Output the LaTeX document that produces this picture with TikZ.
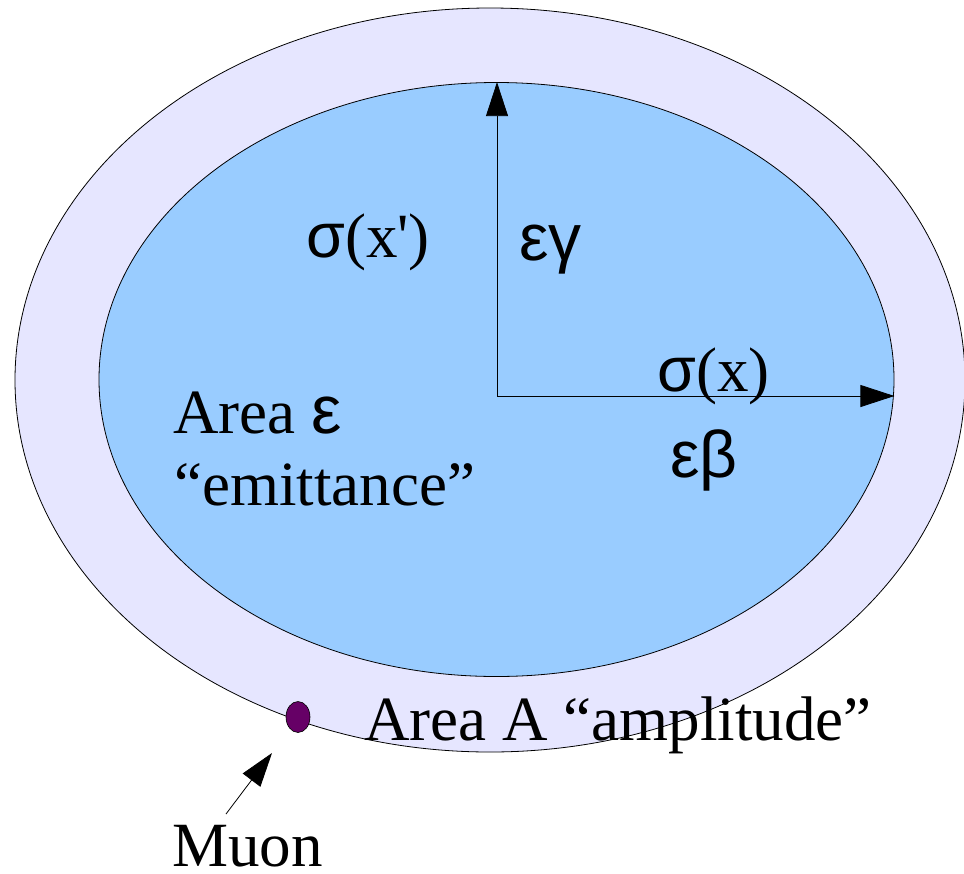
\documentclass[tikz,border=0pt]{standalone}
\usepackage{fontspec}
\setmainfont{Liberation Serif}
\newfontfamily\gs{Liberation Sans}
\usetikzlibrary{shapes.geometric,arrows.meta}
\definecolor{outerfill}{HTML}{E6E6FF}
\definecolor{innerfill}{HTML}{99CCFF}
\definecolor{muonfill}{HTML}{660066}
\begin{document}
\begin{tikzpicture}[x=1pt,y=-1pt,
  ring/.style={ellipse, draw=black, line width=0.8pt, inner sep=0pt},
  arr/.style={line width=0.8pt, -{Triangle[length=34pt,width=22pt]}},
  lbl/.style={anchor=base west, inner sep=0pt, font=\fontsize{63}{70}\selectfont}]
\useasboundingbox (0,0) rectangle (964,873);
\node[ring, fill=outerfill, minimum width=950pt, minimum height=744pt] (outer) at (490,380) {};
\node[ring, fill=innerfill, minimum width=795pt, minimum height=594pt] (inner) at (496.5,379.5) {};
\coordinate (o) at (497,396);
\draw[arr] (o) -- (o |- inner.north);
\draw[arr] (o) -- (o -| inner.east);
\node[lbl] (sxp) at (306,257) {{\gs σ}(x\textquotesingle)};
\node[lbl] (eg) at (519,260) {{\gs\fontsize{66}{70}\selectfont εγ}};
\node[lbl] (sx) at (657,391) {{\gs σ}(x)};
\node[lbl] (eb) at (670,477) {{\gs\fontsize{66}{70}\selectfont εβ}};
\node[lbl] (areae) at (173,433) {Area {\gs\fontsize{68}{70}\selectfont ε}};
\node[lbl] (emit) at (174,505) {“emittance”};
\node[lbl] (areaa) at (364,740) {Area A “amplitude”};
\node[ellipse, draw=black, line width=0.6pt, fill=muonfill, inner sep=0pt, minimum width=24pt, minimum height=31pt] (muon) at (298,717) {};
\node[lbl, text depth=0pt] (mulbl) at (172,866) {Muon};
\coordinate (mstart) at (226,814);
\coordinate (mtip) at (272,753);
\draw[arr] (mstart) -- (mtip);
\end{tikzpicture}
\end{document}
